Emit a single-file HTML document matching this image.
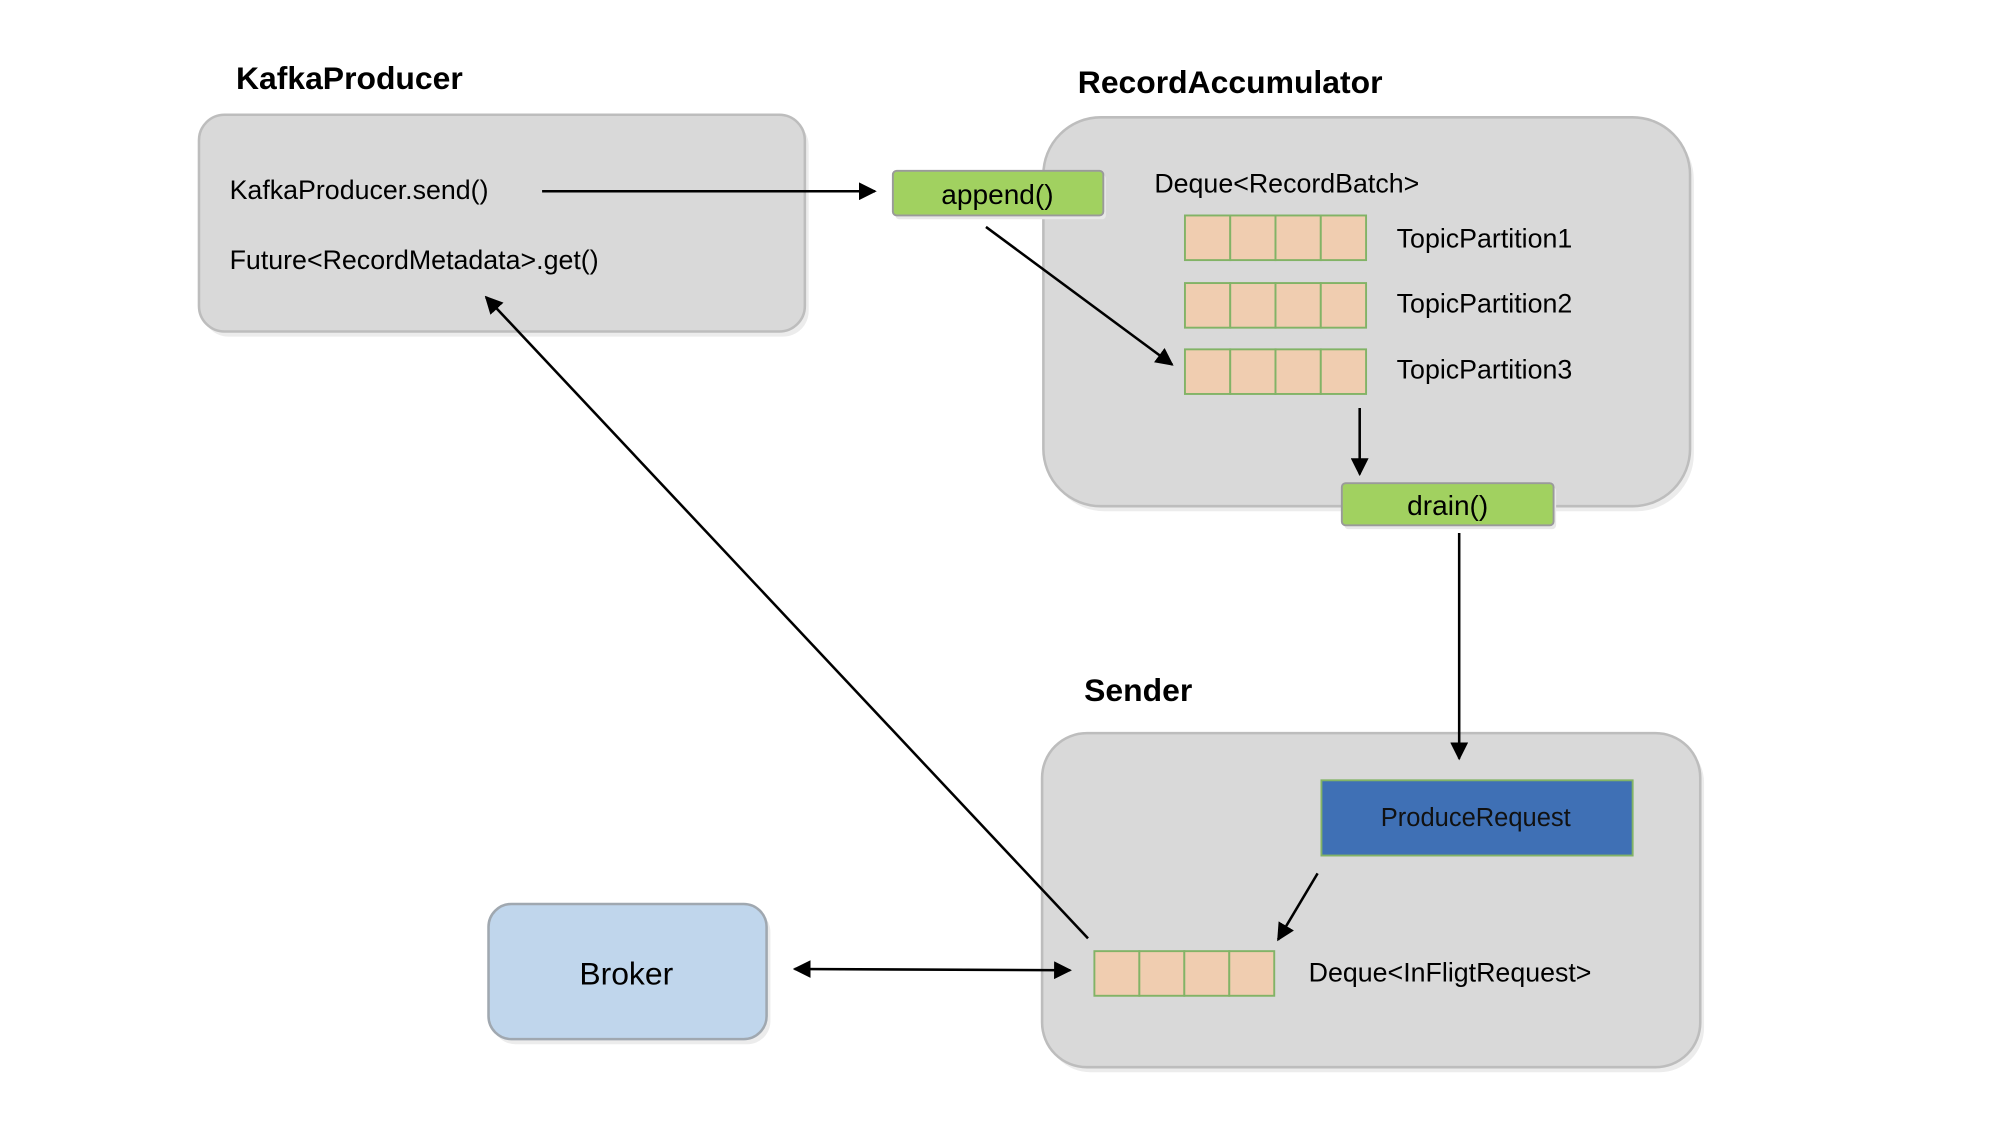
<!DOCTYPE html>
<html><head><style>html,body{margin:0;padding:0;background:#fff;}svg{display:block}</style></head>
<body>
<svg width="2000" height="1122" viewBox="0 0 1568 880" preserveAspectRatio="none" xmlns="http://www.w3.org/2000/svg" font-family="'Liberation Sans', sans-serif">
<defs>
<marker id="a" viewBox="0 0 10 10" refX="9" refY="5" markerWidth="7" markerHeight="7" orient="auto-start-reverse"><path d="M0,0 L10,5 L0,10 z" fill="#000"/></marker>
</defs>
<!-- KafkaProducer -->
<text x="185" y="70" font-size="25" font-weight="bold">KafkaProducer</text>
<rect x="159" y="94" width="475" height="170" rx="20" fill="#ececec"/>
<rect x="156" y="90" width="475" height="170" rx="20" fill="#d9d9d9" stroke="#bdbdbd" stroke-width="2"/>
<text x="180" y="156" font-size="21">KafkaProducer.send()</text>
<text x="180" y="211" font-size="21">Future&lt;RecordMetadata&gt;.get()</text>
<line x1="425" y1="150" x2="686" y2="150" stroke="#000" stroke-width="2" marker-end="url(#a)"/>

<!-- RecordAccumulator -->
<text x="845" y="73" font-size="25" font-weight="bold">RecordAccumulator</text>
<rect x="821" y="96" width="507" height="305" rx="45" fill="#ececec"/>
<rect x="818" y="92" width="507" height="305" rx="45" fill="#d9d9d9" stroke="#bdbdbd" stroke-width="2"/>
<text x="905" y="151" font-size="21">Deque&lt;RecordBatch&gt;</text>
<g fill="#f0cdb0" stroke="#82b366" stroke-width="1.5">
<rect x="929" y="169" width="35.5" height="35"/><rect x="964.5" y="169" width="35.5" height="35"/><rect x="1000" y="169" width="35.5" height="35"/><rect x="1035.5" y="169" width="35.5" height="35"/>
<rect x="929" y="222" width="35.5" height="35"/><rect x="964.5" y="222" width="35.5" height="35"/><rect x="1000" y="222" width="35.5" height="35"/><rect x="1035.5" y="222" width="35.5" height="35"/>
<rect x="929" y="274" width="35.5" height="35"/><rect x="964.5" y="274" width="35.5" height="35"/><rect x="1000" y="274" width="35.5" height="35"/><rect x="1035.5" y="274" width="35.5" height="35"/>
</g>
<text x="1095" y="194" font-size="21">TopicPartition1</text>
<text x="1095" y="245" font-size="21">TopicPartition2</text>
<text x="1095" y="297" font-size="21">TopicPartition3</text>

<!-- append -->
<rect x="702" y="137" width="165" height="35" rx="3" fill="#e8e8e8"/>
<rect x="700" y="134" width="165" height="35" rx="3" fill="#a1d160" stroke="#9a9a9a" stroke-width="1.5"/>
<text x="782" y="160" font-size="22" text-anchor="middle">append()</text>
<line x1="773" y1="178" x2="919" y2="286" stroke="#000" stroke-width="2" marker-end="url(#a)"/>

<line x1="1066" y1="320" x2="1066" y2="372" stroke="#000" stroke-width="2" marker-end="url(#a)"/>
<!-- drain -->
<rect x="1054" y="382" width="166" height="33" rx="3" fill="#e8e8e8"/>
<rect x="1052" y="379" width="166" height="33" rx="3" fill="#a1d160" stroke="#9a9a9a" stroke-width="1.5"/>
<text x="1135" y="404" font-size="22" text-anchor="middle">drain()</text>

<!-- Sender -->
<text x="850" y="550" font-size="25" font-weight="bold">Sender</text>
<rect x="820" y="579" width="516" height="262" rx="35" fill="#ececec"/>
<rect x="817" y="575" width="516" height="262" rx="35" fill="#d9d9d9" stroke="#bdbdbd" stroke-width="2"/>
<line x1="1144" y1="418" x2="1144" y2="595" stroke="#000" stroke-width="2" marker-end="url(#a)"/>
<rect x="1036" y="612" width="244" height="59" fill="#3f70b5" stroke="#82b366" stroke-width="1.5"/>
<text x="1157" y="648" font-size="20" text-anchor="middle" fill="#111">ProduceRequest</text>
<line x1="1033" y1="685" x2="1002" y2="737" stroke="#000" stroke-width="2" marker-end="url(#a)"/>
<g fill="#f0cdb0" stroke="#82b366" stroke-width="1.5">
<rect x="858" y="746" width="35.25" height="35"/><rect x="893.25" y="746" width="35.25" height="35"/><rect x="928.5" y="746" width="35.25" height="35"/><rect x="963.75" y="746" width="35.25" height="35"/>
</g>
<text x="1026" y="770" font-size="21">Deque&lt;InFligtRequest&gt;</text>

<!-- Broker -->
<rect x="386" y="713" width="218" height="106" rx="18" fill="#ececec"/>
<rect x="383" y="709" width="218" height="106" rx="18" fill="#c0d6ec" stroke="#a0a8b0" stroke-width="2"/>
<text x="491" y="772" font-size="25" text-anchor="middle">Broker</text>
<line x1="623" y1="760" x2="839" y2="761" stroke="#000" stroke-width="2" marker-start="url(#a)" marker-end="url(#a)"/>

<line x1="853" y1="736" x2="381" y2="233" stroke="#000" stroke-width="2" marker-end="url(#a)"/>
</svg>
</body></html>
